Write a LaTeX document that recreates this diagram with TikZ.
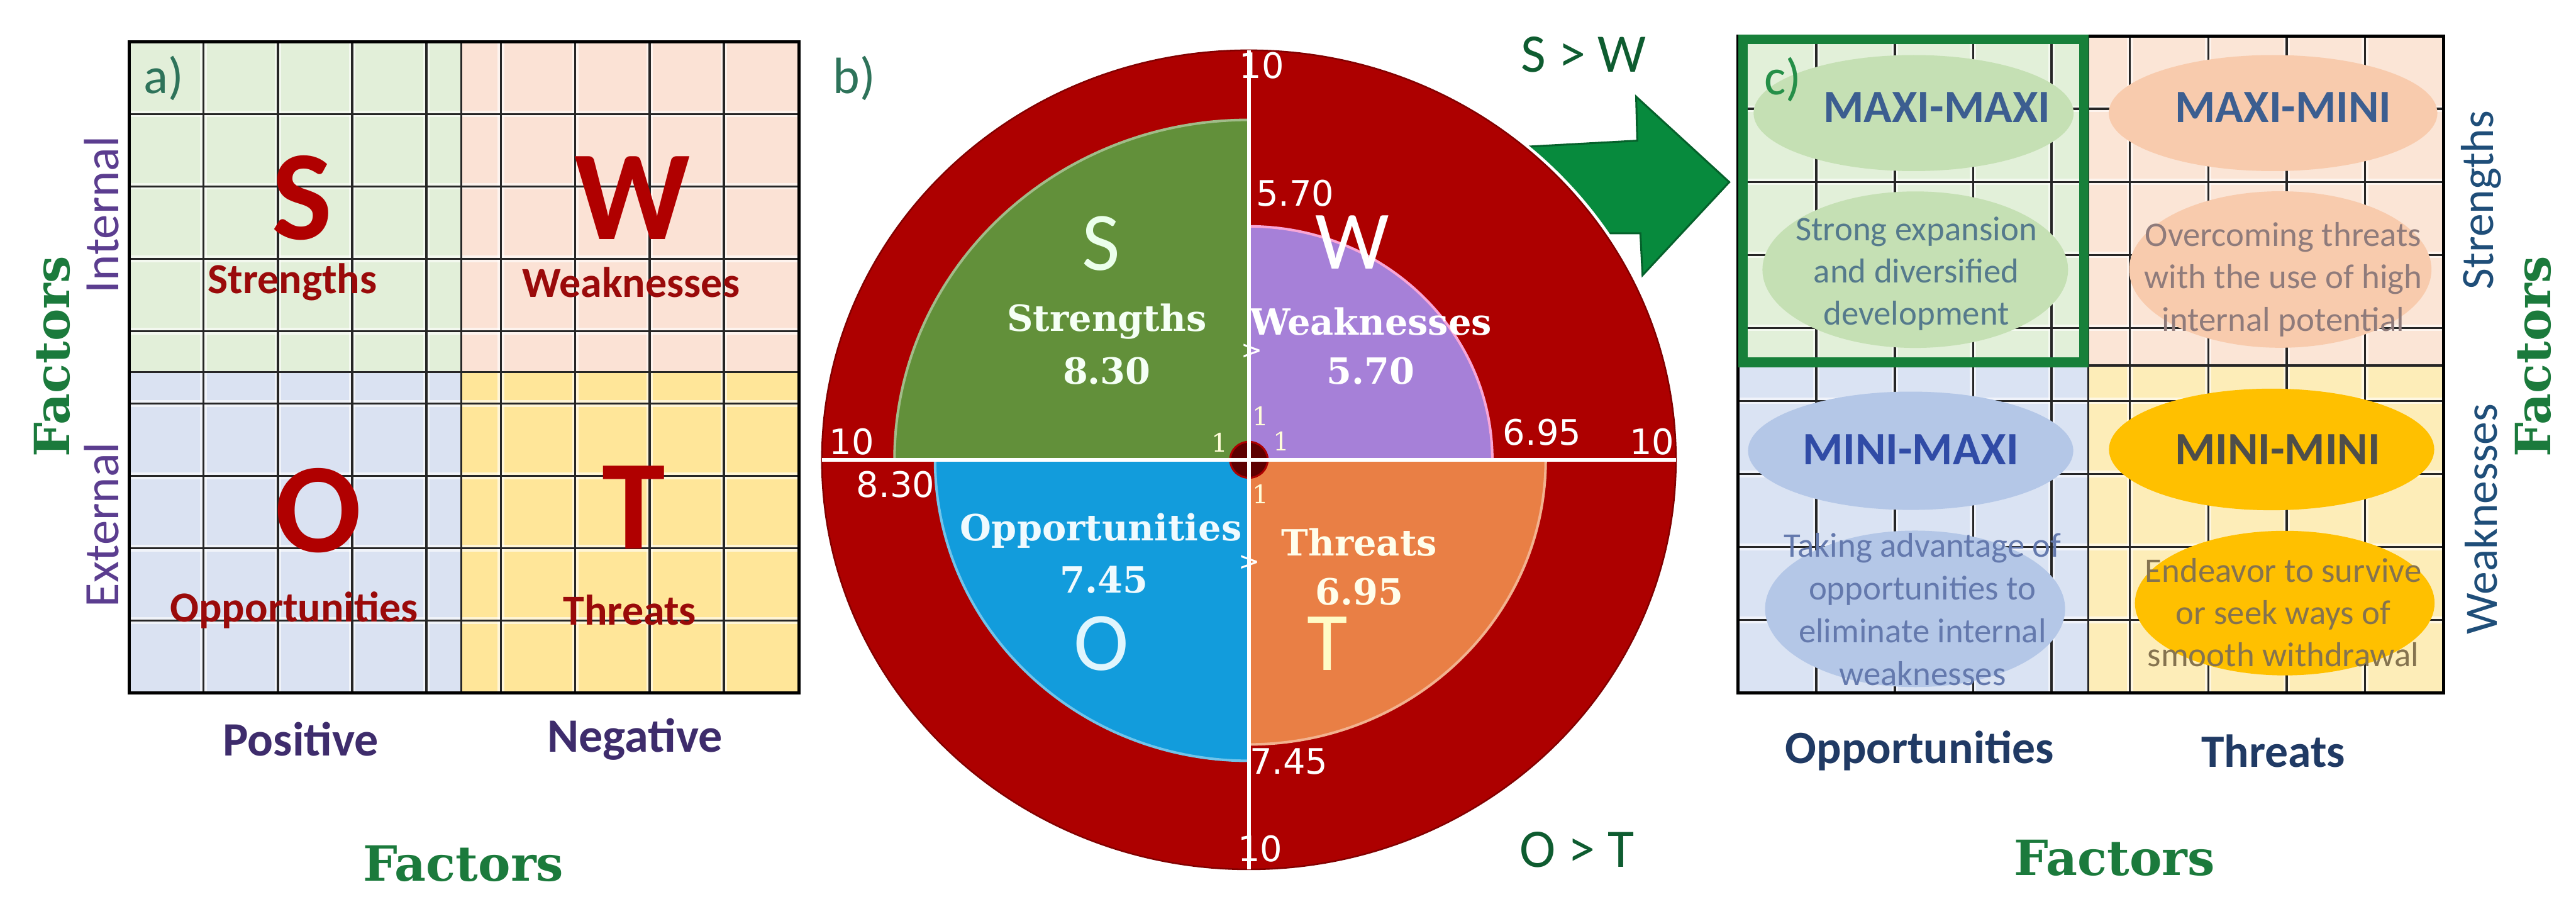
\documentclass[tikz,border=0pt]{standalone}
\usepackage{fontspec}
\setmainfont{Carlito}
\newfontfamily\slabfont{DejaVu Serif}
\newfontfamily\numfont{DejaVu Sans}
\usetikzlibrary{shapes.geometric, positioning}

% panel a
\definecolor{qgreen}{HTML}{E2EFD9}
\definecolor{qpink}{HTML}{FBE2D5}
\definecolor{qblue}{HTML}{DAE2F2}
\definecolor{qyellow}{HTML}{FFE699}
\definecolor{swotred}{HTML}{B00000}
\definecolor{labred}{HTML}{9A0A0A}
\definecolor{sidepurple}{HTML}{5B3D8F}
\definecolor{axpurple}{HTML}{3E2C6C}
\definecolor{facgreen}{HTML}{1B7A3C}
\definecolor{tagteal}{HTML}{2E735A}
% panel b
\definecolor{ringred}{HTML}{AD0000}
\definecolor{dotred}{HTML}{5E0000}
\definecolor{secgreen}{HTML}{62903A}
\definecolor{secpurple}{HTML}{A680D8}
\definecolor{secblue}{HTML}{129CDC}
\definecolor{secorange}{HTML}{E97F45}
\definecolor{arrowgreen}{HTML}{078A3D}
\definecolor{cmpgreen}{HTML}{0E5C30}
% panel c
\definecolor{cgreen}{HTML}{E2F0D9}
\definecolor{cpink}{HTML}{FBE5D6}
\definecolor{cblue}{HTML}{DAE3F3}
\definecolor{cyellow}{HTML}{FDEDB8}
\definecolor{egreen}{HTML}{C5E0B4}
\definecolor{epink}{HTML}{F8CBAD}
\definecolor{eblue}{HTML}{B4C7E7}
\definecolor{egold}{HTML}{FFC000}
\definecolor{boxgreen}{HTML}{17803A}
\definecolor{stratblue}{HTML}{3C5E90}
\definecolor{stratgrey}{HTML}{4E4E4A}
\definecolor{dgreen}{HTML}{557A8C}
\definecolor{dpink}{HTML}{8F7B7B}
\definecolor{dblue}{HTML}{6479AD}
\definecolor{dgold}{HTML}{85734F}
\definecolor{navy}{HTML}{203A64}
\definecolor{sidenavy}{HTML}{1F4E79}

\begin{document}
\begin{tikzpicture}[
    % ── Global: one unit = one pixel of the 1568 x 553 layout ──
    x=0.018083cm, y=-0.018083cm,
    % ── Grids ──
    gridhalo/.style={draw=white, line width=2pt, opacity=0.6},
    gridline/.style={draw=black!85, line width=0.7pt},
    frameline/.style={draw=black, line width=1pt},
    % ── Panel a ──
    paneltag/.style={font=\fontsize{16}{16}\selectfont, text=tagteal, inner sep=0pt},
    bigletter/.style={font=\fontsize{40}{40}\selectfont\bfseries, text=swotred, inner sep=0pt},
    qlabel/.style={font=\fontsize{13.4}{14}\selectfont\bfseries, text=labred, inner sep=0pt},
    sidelabel/.style={font=\fontsize{15.5}{16}\selectfont, text=sidepurple, rotate=90, inner sep=0pt},
    axlabel/.style={font=\fontsize{15}{16}\selectfont\bfseries, text=axpurple, inner sep=0pt},
    factor/.style={font=\fontsize{15.2}{16}\selectfont\slabfont\bfseries, text=facgreen, inner sep=0pt},
    % ── Panel b ──
    sector/.style={line width=0.8pt},
    axisline/.style={draw=white, line width=1.3pt},
    ringnum/.style={font=\fontsize{11}{11}\selectfont\numfont, text=white, inner sep=0pt},
    unitnum/.style={font=\fontsize{8}{8}\selectfont\slabfont, text=yellow!15, inner sep=0pt},
    secletter/.style={font=\fontsize{26}{26}\selectfont, inner sep=0pt},
    seclabel/.style={font=\fontsize{11.3}{12}\selectfont\slabfont\bfseries, inner sep=0pt},
    compare/.style={font=\fontsize{17}{17}\selectfont, text=cmpgreen, inner sep=0pt},
    % ── Panel c ──
    blob/.style={ellipse, inner sep=0pt},
    strat/.style={font=\fontsize{14.5}{15}\selectfont\bfseries, inner sep=0pt},
    desc/.style={font=\fontsize{10.8}{13.2}\selectfont, align=center, inner sep=0pt},
    cside/.style={font=\fontsize{14.5}{15}\selectfont, text=sidenavy, rotate=90, inner sep=0pt},
    caxis/.style={font=\fontsize{14.5}{15}\selectfont\bfseries, text=navy, inner sep=0pt},
    maxbox/.style={draw=boxgreen, line width=3pt},
]

\useasboundingbox (0,0) rectangle (1568,553);
\fill[white] (0,0) rectangle (1568,553);

% ════════════════════════════════════════════════════════
%  PANEL a: SWOT matrix
% ════════════════════════════════════════════════════════

\fill[qgreen]  (78.6,25.4)   rectangle (280.8,226.4);
\fill[qpink]   (280.8,25.4)  rectangle (486.3,226.4);
\fill[qblue]   (78.6,226.4)  rectangle (280.8,421.7);
\fill[qyellow] (280.8,226.4) rectangle (486.3,421.7);

\foreach \k in {1,...,8} {
    \draw[gridhalo] ({78.6+45.26*\k},25.4) -- ({78.6+45.26*\k},421.7);
    \draw[gridhalo] (78.6,{25.4+44.03*\k}) -- (486.3,{25.4+44.03*\k});
}
\foreach \k in {1,...,8} {
    \draw[gridline] ({78.6+45.26*\k},25.4) -- ({78.6+45.26*\k},421.7);
    \draw[gridline] (78.6,{25.4+44.03*\k}) -- (486.3,{25.4+44.03*\k});
}
\draw[gridline] (280.8,25.4) -- (280.8,421.7);
\draw[gridline] (78.6,226.4) -- (486.3,226.4);
\draw[frameline] (78.6,25.4) rectangle (486.3,421.7);

\node (aTag) [paneltag] at (99.8,47.6) {a)};

\node (aS)  [bigletter] at (184,120.4)   {S};
\node (aSl) [qlabel]    at (178,171.8)   {Strengths};
\node (aW)  [bigletter] at (385,120.4)   {W};
\node (aWl) [qlabel]    at (384,171.8)   {Weaknesses};
\node (aO)  [bigletter] at (193.9,310.5) {O};
\node (aOl) [qlabel]    at (179,371.2)   {Opportunities};
\node (aT)  [bigletter] at (385.9,308.7) {T};
\node (aTl) [qlabel]    at (383.3,371.2) {Threats};

\node (aInt) [sidelabel] at (61.8,130.6) {Internal};
\node (aExt) [sidelabel] at (61.8,319.3) {External};
\node (aFacL) [factor, rotate=90] at (31.7,217) {Factors};

\node (aPos) [axlabel] at (183.1,449.9) {Positive};
\node (aNeg) [axlabel] at (386.5,449.9) {Negative};
\node (aFacB) [factor] at (282,525.7) {Factors};

% ════════════════════════════════════════════════════════
%  PANEL b: SWOT circle
% ════════════════════════════════════════════════════════

\coordinate (ctr) at (760.2,279.8);

% big arrow, its back cut by the ring
\fill[arrowgreen, draw=arrowgreen!70!black, line width=0.6pt]
    (925,89.5) -- (996.6,85.6) -- (995.9,58.8) -- (1052.6,110.8)
    -- (999.8,167.5) -- (998.5,142) -- (975,142) -- (940,140) -- cycle;

\begin{scope}[shift={(ctr)}, x=4.6998cm, y=4.5063cm]
    \fill[white] (0,0) circle[radius=1.009];
    \fill[ringred, draw=ringred!75!black, line width=0.5pt] (0,0) circle[radius=1];
    \filldraw[sector, fill=secgreen, draw=secgreen!60!white]
        (0,0) -- (-0.83,0) arc[start angle=180, end angle=90, radius=0.83] -- cycle;
    \filldraw[sector, fill=secpurple, draw=magenta!35!white]
        (0,0) -- (0,0.57) arc[start angle=90, end angle=0, radius=0.57] -- cycle;
    \filldraw[sector, fill=secblue, draw=secblue!60!white]
        (0,0) -- (-0.735,0) arc[start angle=180, end angle=270, radius=0.735] -- cycle;
    \filldraw[sector, fill=secorange, draw=secorange!60!white]
        (0,0) -- (0.695,0) arc[start angle=0, end angle=-90, radius=0.695] -- cycle;
    \filldraw[fill=dotred, draw=ringred, line width=0.6pt] (0,0) circle[radius=0.044];
    \draw[axisline] (-1,0) -- (1,0);
    \draw[axisline] (0,1) -- (0,-1);
\end{scope}

\node (bTag) [paneltag] at (520,47.6) {b)};
\node (bSW) [compare] at (964,33.3)    {S > W};
\node (bOT) [compare] at (959.9,516.9) {O > T};

% scale marks
\node (bTop)   [ringnum] at (768,40)      {10};
\node (bBot)   [ringnum] at (767,516.3)   {10};
\node (bLeft)  [ringnum] at (518.4,268.7) {10};
\node (bRight) [ringnum] at (1005.5,268.7){10};
\node (bWmk)   [ringnum] at (788.3,117.5) {5.70};
\node (bTmk)   [ringnum] at (938.7,262.9) {6.95};
\node (bSmk)   [ringnum] at (545.1,294.8) {8.30};
\node (bOmk)   [ringnum] at (784.5,463.5) {7.45};

\node (bOneL) [unitnum] at (742.4,269.4) {1};
\node (bOneU) [unitnum] at (767.2,253.3) {1};
\node (bOneR) [unitnum] at (780,268.6)   {1};
\node (bOneD) [unitnum] at (767.2,300.6) {1};
\node (bChevU) [unitnum, text=white] at (762,214)     {>};
\node (bChevD) [unitnum, text=white] at (760.3,342.6) {>};

% sector texts
\node (bS)  [secletter, text=green!8!white]  at (670.2,148.2) {S};
\node (bSl) [seclabel, text=green!4!white]   at (673.7,195.8) {Strengths};
\node (bSv) [seclabel, text=green!4!white]   at (673.7,225.8) {8.30};
\node (bW)  [secletter, text=white]          at (823,147.5)   {W};
\node (bWl) [seclabel, text=white]           at (834.4,195.8) {Weaknesses};
\node (bWv) [seclabel, text=white]           at (834.4,225.8) {5.70};
\node (bOl) [seclabel, text=cyan!6!white]    at (670.2,322.9) {Opportunities};
\node (bOv) [seclabel, text=cyan!6!white]    at (671.9,352.9) {7.45};
\node (bO)  [secletter, text=cyan!12!white]  at (670.2,391.7) {O};
\node (bTl) [seclabel, text=yellow!8!white]  at (827.4,329.9) {Threats};
\node (bTv) [seclabel, text=yellow!8!white]  at (827.4,359.9) {6.95};
\node (bT)  [secletter, text=yellow!22!white] at (808,391.7)  {T};

% ════════════════════════════════════════════════════════
%  PANEL c: strategy matrix
% ════════════════════════════════════════════════════════

\fill[cgreen]  (1057.9,21.9)  rectangle (1271.2,222.3);
\fill[cpink]   (1271.2,21.9)  rectangle (1487.3,222.3);
\fill[cblue]   (1057.9,222.3) rectangle (1271.2,421.7);
\fill[cyellow] (1271.2,222.3) rectangle (1487.3,421.7);

\foreach \k in {1,...,8} {
    \draw[gridhalo] ({1057.9+47.71*\k},21.9) -- ({1057.9+47.71*\k},421.7);
    \draw[gridhalo] (1057.9,{21.9+44.42*\k}) -- (1487.3,{21.9+44.42*\k});
}
\foreach \k in {1,...,8} {
    \draw[gridline] ({1057.9+47.71*\k},21.9) -- ({1057.9+47.71*\k},421.7);
    \draw[gridline] (1057.9,{21.9+44.42*\k}) -- (1487.3,{21.9+44.42*\k});
}
\draw[gridline] (1271.2,21.9) -- (1271.2,421.7);
\draw[gridline] (1057.9,222.3) -- (1487.3,222.3);
\draw[frameline] (1057.9,21.9) rectangle (1487.3,421.7);

% ellipses
\node (eMM)  [blob, fill=egreen, minimum width=3.523cm, minimum height=1.277cm] at (1164.8,68.8) {};
\node (eMMd) [blob, fill=egreen, minimum width=3.363cm, minimum height=1.722cm] at (1165.8,164.1) {};
\node (eMm)  [blob, fill=epink,  minimum width=3.617cm, minimum height=1.277cm] at (1383.6,68.8) {};
\node (eMmd) [blob, fill=epink,  minimum width=3.327cm, minimum height=1.722cm] at (1388,164) {};
\node (emM)  [blob, fill=eblue,  minimum width=3.580cm, minimum height=1.302cm] at (1163,274.3) {};
\node (emMd) [blob, fill=eblue,  minimum width=3.302cm, minimum height=1.722cm] at (1165.7,370.5) {};
\node (emm)  [blob, fill=egold,  minimum width=3.580cm, minimum height=1.338cm] at (1382.7,273.5) {};
\node (emmd) [blob, fill=egold,  minimum width=3.298cm, minimum height=1.591cm] at (1390.7,367) {};

\node (tMM) [strat, text=stratblue] at (1179,65.3)    {MAXI-MAXI};
\node (tMm) [strat, text=stratblue] at (1389.8,65.3)  {MAXI-MINI};
\node (tmM) [strat, text=stratblue!80!blue] at (1163,273.5) {MINI-MAXI};
\node (tmm) [strat, text=stratgrey] at (1386.3,273.5) {MINI-MINI};

\node (dMM) [desc, text=dgreen] at (1166.5,166.7)
    {Strong expansion\\and diversified\\development};
\node (dMm) [desc, text=dpink]  at (1389.8,170.1)
    {Overcoming threats\\with the use of high\\internal potential};
\node (dmM) [desc, text=dblue, font=\fontsize{10.8}{13.4}\selectfont] at (1170.2,370.9)
    {Taking advantage of\\opportunities to\\eliminate internal\\weaknesses};
\node (dmm) [desc, text=dgold]  at (1389.8,372.6)
    {Endeavor to survive\\or seek ways of\\smooth withdrawal};

% selected quadrant
\draw[maxbox] (1061,23.9) rectangle (1268.3,220.5);
\node (cTag) [paneltag, text=tagteal!80!green] at (1085.1,48.4) {c)};

\node (cStr) [cside] at (1510.3,121.7) {Strengths};
\node (cWea) [cside] at (1510.3,315.8) {Weaknesses};
\node (cFacR) [factor, rotate=90] at (1542.1,217) {Factors};

\node (cOpp) [caxis] at (1168.4,457) {Opportunities};
\node (cThr) [caxis] at (1383.8,457) {Threats};
\node (cFacB) [factor] at (1287.1,522.2) {Factors};

\end{tikzpicture}
\end{document}
